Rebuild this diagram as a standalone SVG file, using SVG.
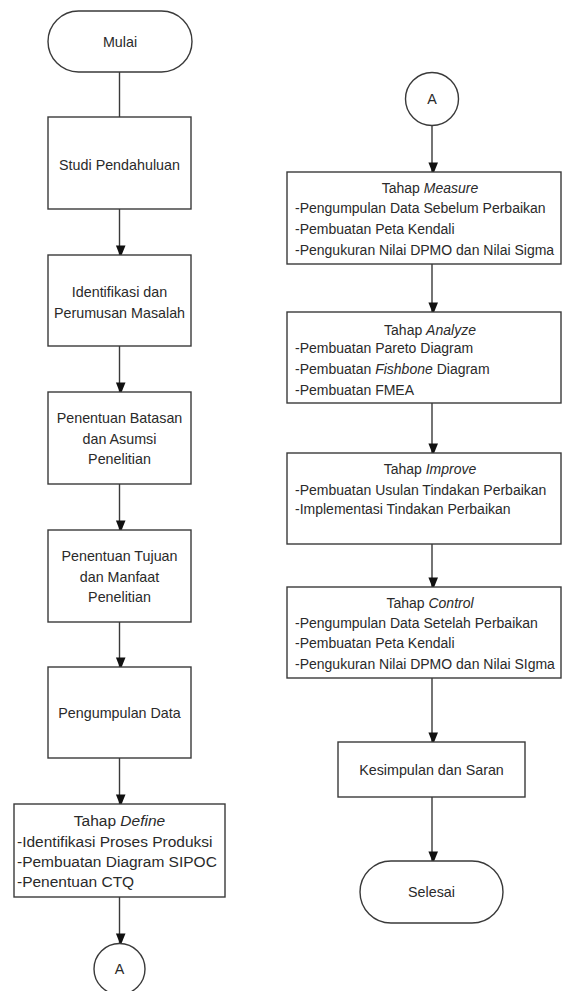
<svg xmlns="http://www.w3.org/2000/svg" width="563" height="991" viewBox="0 0 563 991">
<style>
.box{fill:#fff;stroke:#3a3a3a;stroke-width:1.4}
.t{font-family:"Liberation Sans",Arial,sans-serif;font-size:14.3px;fill:#2a2a2a}
.d{font-size:15.5px}
.r{font-size:14px}
.c{text-anchor:middle}
.i{font-style:italic}
.ln{stroke:#3a3a3a;stroke-width:1.4;fill:none}
</style>
<defs>
<marker id="ar" markerWidth="12" markerHeight="15" refX="12" refY="7.5" orient="auto" markerUnits="userSpaceOnUse" viewBox="0 0 15 12">
<path d="M0,0 L15,6 L0,12 Z" fill="#111"/>
</marker>
</defs>
<rect width="563" height="991" fill="#fff"/>
<g id="connectors">
<line class="ln" x1="119.5" y1="72" x2="119.5" y2="117"/>
<line class="ln" x1="119.5" y1="209" x2="119.5" y2="255" marker-end="url(#ar)"/>
<line class="ln" x1="119.5" y1="346" x2="119.5" y2="392" marker-end="url(#ar)"/>
<line class="ln" x1="119.5" y1="484" x2="119.5" y2="530" marker-end="url(#ar)"/>
<line class="ln" x1="119.5" y1="622" x2="119.5" y2="667" marker-end="url(#ar)"/>
<line class="ln" x1="119.5" y1="758" x2="119.5" y2="804" marker-end="url(#ar)"/>
<line class="ln" x1="119.5" y1="897" x2="119.5" y2="943" marker-end="url(#ar)"/>
<line class="ln" x1="432" y1="126" x2="432" y2="172" marker-end="url(#ar)"/>
<line class="ln" x1="432" y1="264" x2="432" y2="312" marker-end="url(#ar)"/>
<line class="ln" x1="432" y1="403" x2="432" y2="453" marker-end="url(#ar)"/>
<line class="ln" x1="432" y1="544" x2="432" y2="587" marker-end="url(#ar)"/>
<line class="ln" x1="432" y1="678" x2="432" y2="742" marker-end="url(#ar)"/>
<line class="ln" x1="432" y1="797" x2="432" y2="861" marker-end="url(#ar)"/>
</g>
<g id="mulai">
<rect class="box" x="48" y="11" width="144" height="61" rx="30.5"/>
<text class="t c" x="120" y="47">Mulai</text>
</g>
<g id="studi">
<rect class="box" x="48" y="117" width="143" height="92"/>
<text class="t c" x="119.5" y="170">Studi Pendahuluan</text>
</g>
<g id="identifikasi">
<rect class="box" x="48" y="255" width="143" height="91"/>
<text class="t c" x="119.5" y="297">Identifikasi dan</text>
<text class="t c" x="119.5" y="318">Perumusan Masalah</text>
</g>
<g id="batasan">
<rect class="box" x="48" y="392" width="143" height="92"/>
<text class="t c" x="119.5" y="423">Penentuan Batasan</text>
<text class="t c" x="119.5" y="444">dan Asumsi</text>
<text class="t c" x="119.5" y="464">Penelitian</text>
</g>
<g id="tujuan">
<rect class="box" x="48" y="530" width="143" height="92"/>
<text class="t c" x="119.5" y="561">Penentuan Tujuan</text>
<text class="t c" x="119.5" y="582">dan Manfaat</text>
<text class="t c" x="119.5" y="602">Penelitian</text>
</g>
<g id="pengumpulan">
<rect class="box" x="48" y="667" width="143" height="91"/>
<text class="t c" x="119.5" y="718">Pengumpulan Data</text>
</g>
<g id="define">
<rect class="box" x="14" y="804" width="211" height="93"/>
<text class="t d c" x="119.5" y="826">Tahap <tspan class="i">Define</tspan></text>
<text class="t d" x="17" y="847">-Identifikasi Proses Produksi</text>
<text class="t d" x="17" y="867">-Pembuatan Diagram SIPOC</text>
<text class="t d" x="17" y="887">-Penentuan CTQ</text>
</g>
<g id="a-out">
<circle class="box" cx="119.5" cy="969" r="25.5"/>
<text class="t c" x="119.5" y="974">A</text>
</g>
<g id="a-in">
<circle class="box" cx="432" cy="99" r="26.5"/>
<text class="t c" x="432" y="104">A</text>
</g>
<g id="measure">
<rect class="box" x="287" y="172" width="274" height="92"/>
<text class="t r c" x="430" y="193">Tahap <tspan class="i">Measure</tspan></text>
<text class="t r" x="295" y="213">-Pengumpulan Data Sebelum Perbaikan</text>
<text class="t r" x="295" y="234">-Pembuatan Peta Kendali</text>
<text class="t r" x="295" y="255">-Pengukuran Nilai DPMO dan Nilai Sigma</text>
</g>
<g id="analyze">
<rect class="box" x="287" y="312" width="274" height="91"/>
<text class="t r c" x="430" y="335">Tahap <tspan class="i">Analyze</tspan></text>
<text class="t r" x="295" y="353">-Pembuatan Pareto Diagram</text>
<text class="t r" x="295" y="374">-Pembuatan <tspan class="i">Fishbone</tspan> Diagram</text>
<text class="t r" x="295" y="395">-Pembuatan FMEA</text>
</g>
<g id="improve">
<rect class="box" x="287" y="453" width="274" height="91"/>
<text class="t r c" x="430" y="474">Tahap <tspan class="i">Improve</tspan></text>
<text class="t r" x="295" y="495">-Pembuatan Usulan Tindakan Perbaikan</text>
<text class="t r" x="295" y="514">-Implementasi Tindakan Perbaikan</text>
</g>
<g id="control">
<rect class="box" x="287" y="587" width="274" height="91"/>
<text class="t r c" x="430" y="608">Tahap <tspan class="i">Control</tspan></text>
<text class="t r" x="295" y="628">-Pengumpulan Data Setelah Perbaikan</text>
<text class="t r" x="295" y="648">-Pembuatan Peta Kendali</text>
<text class="t r" x="295" y="669">-Pengukuran Nilai DPMO dan Nilai SIgma</text>
</g>
<g id="kesimpulan">
<rect class="box" x="338" y="742" width="187" height="55"/>
<text class="t c" x="431.5" y="775">Kesimpulan dan Saran</text>
</g>
<g id="selesai">
<rect class="box" x="360" y="861" width="143" height="62" rx="31"/>
<text class="t c" x="431.5" y="897">Selesai</text>
</g>
</svg>
